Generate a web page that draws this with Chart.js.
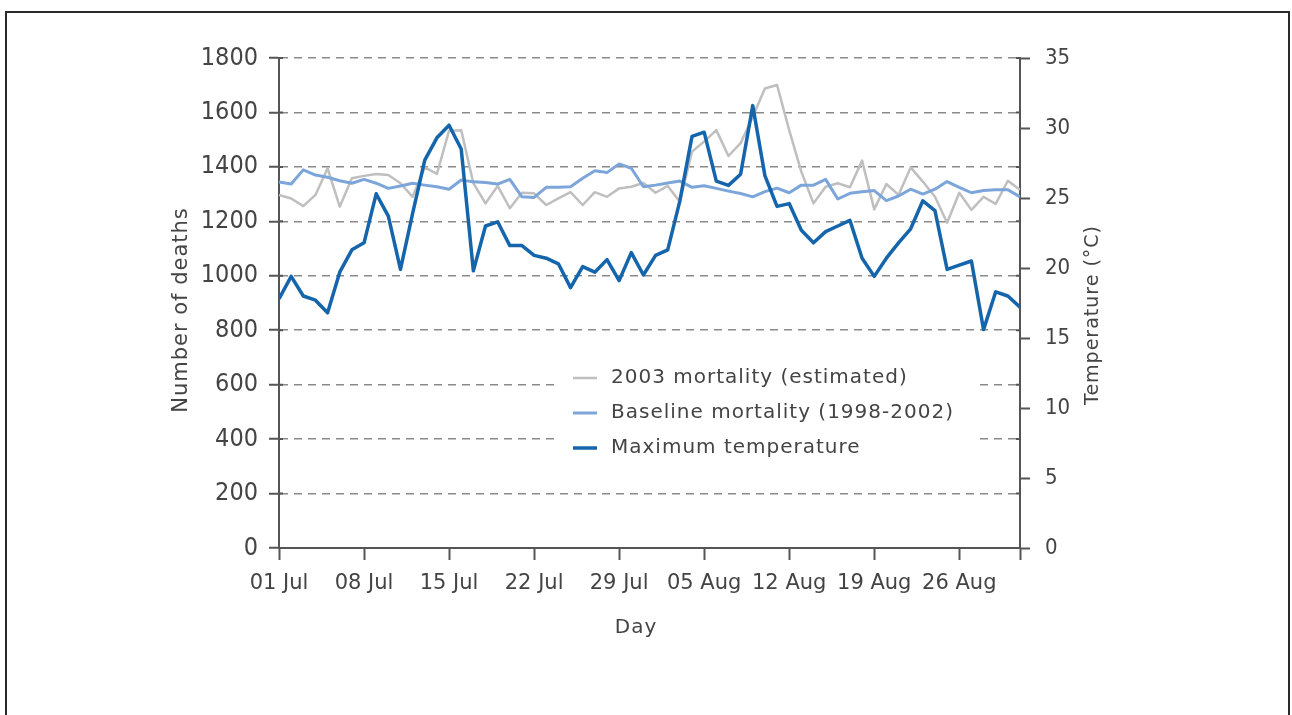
<!DOCTYPE html>
<html>
<head>
<meta charset="utf-8">
<script src="https://cdn.jsdelivr.net/npm/chart.js@4.4.0/dist/chart.umd.min.js"></script>
<style>
html, body { margin: 0; padding: 0; background: #fff; overflow: hidden; }
#frame { position: absolute; left: 5px; top: 11px; width: 1285px; height: 760px; border: 2px solid #2b2b2b; box-sizing: border-box; }
#wrap { position: absolute; left: 0; top: 0; width: 1292px; height: 715px; }
</style>
</head>
<body>
<div id="frame"></div>
<div id="wrap"><canvas id="chart"></canvas></div>
<script>
// Dados
const dayTicks = [0, 7, 14, 21, 28, 35, 42, 49, 56];
const dayLabels = ['01 Jul', '08 Jul', '15 Jul', '22 Jul', '29 Jul', '05 Aug', '12 Aug', '19 Aug', '26 Aug'];
const lastDay = 61;

const seriesNames = ['2003 mortality (estimated)', 'Baseline mortality (1998-2002)', 'Maximum temperature'];

const mortality2003 = [
    1297, 1284, 1256, 1297, 1395, 1254, 1358, 1367, 1374, 1370,
    1340, 1290, 1398, 1374, 1533, 1535, 1340, 1266, 1330, 1248,
    1305, 1303, 1260, 1284, 1307, 1260, 1307, 1290, 1321, 1327,
    1341, 1305, 1330, 1272, 1456, 1493, 1535, 1440, 1487, 1584,
    1688, 1701, 1535, 1382, 1266, 1327, 1340, 1325, 1423, 1244,
    1337, 1297, 1398, 1346, 1290, 1195, 1305, 1242, 1290, 1264,
    1349, 1316
];

const mortalityBaseline = [
    1345, 1337, 1389, 1370, 1362, 1349, 1340, 1354, 1340, 1321,
    1330, 1340, 1333, 1327, 1318, 1352, 1345, 1343, 1337, 1354,
    1290, 1288, 1325, 1325, 1327, 1358, 1386, 1379, 1411, 1395,
    1327, 1333, 1341, 1348, 1325, 1331, 1321, 1311, 1302, 1290,
    1309, 1322, 1305, 1333, 1333, 1354, 1282, 1303, 1309, 1313,
    1276, 1293, 1318, 1300, 1318, 1346, 1325, 1305, 1313, 1316,
    1316, 1290
];

const maxTemperature = [
    17.8, 19.4, 18.0, 17.7, 16.8, 19.7, 21.3, 21.8, 25.3, 23.7,
    19.9, 23.9, 27.7, 29.3, 30.2, 28.5, 19.8, 23.0, 23.3, 21.6,
    21.6, 20.9, 20.7, 20.3, 18.6, 20.1, 19.7, 20.6, 19.1, 21.1,
    19.5, 20.9, 21.3, 24.8, 29.4, 29.7, 26.2, 25.9, 26.7, 31.6,
    26.6, 24.4, 24.6, 22.7, 21.8, 22.6, 23.0, 23.4, 20.7, 19.4,
    20.7, 21.8, 22.8, 24.8, 24.1, 19.9, 20.2, 20.5, 15.6, 18.3,
    18.0, 17.2
];

const FONTE = "'DejaVu Sans Condensed', 'DejaVu Sans', sans-serif";
const FONTE_LARGA = "'DejaVu Sans', sans-serif";
const COR_TEXTO = '#444';
const COR_EIXO = '#555';

Chart.defaults.font.family = FONTE;
Chart.defaults.color = COR_TEXTO;

function pontos(valores) {
    return valores.map((v, i) => ({ x: i, y: v }));
}

function escreverTexto(ctx, texto, x, y, tamanho, rotacao) {
    ctx.save();
    ctx.translate(x, y);
    ctx.rotate(rotacao);
    ctx.fillStyle = COR_TEXTO;
    ctx.font = tamanho + 'px ' + FONTE_LARGA;
    ctx.letterSpacing = '1px';
    ctx.textAlign = 'center';
    ctx.textBaseline = 'middle';
    ctx.fillText(texto, 0, 0);
    ctx.restore();
}

// Legenda dentro da área do gráfico + títulos dos eixos
const legendaPlugin = {
    id: 'legendaInterna',
    beforeDatasetsDraw(chart) {
        const ctx = chart.ctx;
        ctx.save();
        ctx.fillStyle = '#fff';
        ctx.fillRect(560, 358, 415, 110);
        const linhas = [378, 413, 448];
        chart.data.datasets.forEach((ds, i) => {
            const y = linhas[i];
            ctx.strokeStyle = ds.borderColor;
            ctx.lineWidth = ds.borderWidth;
            ctx.beginPath();
            ctx.moveTo(573, y);
            ctx.lineTo(597, y);
            ctx.stroke();
            ctx.fillStyle = COR_TEXTO;
            ctx.font = '20px ' + FONTE_LARGA;
            ctx.letterSpacing = '1px';
            ctx.textBaseline = 'middle';
            ctx.textAlign = 'left';
            ctx.fillText(ds.label, 611, y);
        });
        ctx.letterSpacing = '0px';
        ctx.restore();
    },
    afterDraw(chart) {
        const ctx = chart.ctx;
        const area = chart.chartArea;
        ctx.save();
        // marcas internas dos eixos
        ctx.strokeStyle = COR_EIXO;
        ctx.lineWidth = 2;
        chart.scales.y.ticks.forEach(t => {
            const y = chart.scales.y.getPixelForValue(t.value);
            ctx.beginPath();
            ctx.moveTo(area.left, y);
            ctx.lineTo(area.left + 4, y);
            ctx.moveTo(area.right - 4, y);
            ctx.lineTo(area.right, y);
            ctx.stroke();
        });
        ctx.restore();
        escreverTexto(ctx, 'Number of deaths', 182, 310, 21, -Math.PI / 2);
        escreverTexto(ctx, 'Temperature (°C)', 1093, 315, 19, -Math.PI / 2);
        escreverTexto(ctx, 'Day', 636, 628, 20, 0);
    }
};

new Chart(document.getElementById('chart'), {
    type: 'line',
    data: {
        datasets: [
            {
                label: seriesNames[0],
                data: pontos(mortality2003),
                yAxisID: 'y',
                borderColor: '#bfbfbf',
                borderWidth: 2.5,
                order: 2,
            },
            {
                label: seriesNames[1],
                data: pontos(mortalityBaseline),
                yAxisID: 'y',
                borderColor: '#7ca5da',
                borderWidth: 3,
                order: 1,
            },
            {
                label: seriesNames[2],
                data: pontos(maxTemperature),
                yAxisID: 'y2',
                borderColor: '#1565ac',
                borderWidth: 3.5,
                order: 0,
            }
        ]
    },
    options: {
        responsive: true,
        maintainAspectRatio: false,
        animation: false,
        elements: {
            point: { radius: 0 },
            line: { tension: 0, borderJoinStyle: 'round' }
        },
        layout: {
            padding: { left: 165, right: 0, top: 58, bottom: 71 }
        },
        plugins: {
            legend: { display: false },
            tooltip: { enabled: false }
        },
        scales: {
            x: {
                type: 'linear',
                min: 0,
                max: lastDay,
                afterBuildTicks: (scale) => {
                    scale.ticks = dayTicks.concat([lastDay]).map(v => ({ value: v }));
                },
                afterFit: (scale) => { scale.height = 96; },
                ticks: {
                    autoSkip: false,
                    maxRotation: 0,
                    padding: 11,
                    font: { size: 21, family: FONTE_LARGA },
                    callback: (v) => {
                        const i = dayTicks.indexOf(v);
                        return i >= 0 ? dayLabels[i] : '';
                    }
                },
                grid: {
                    drawOnChartArea: false,
                    tickLength: 12,
                    tickColor: COR_EIXO,
                    tickWidth: 2
                },
                border: { color: COR_EIXO, width: 2 }
            },
            y: {
                position: 'left',
                min: 0,
                max: 1800,
                afterFit: (scale) => { scale.width = 114; },
                ticks: {
                    stepSize: 200,
                    padding: 11,
                    font: { size: 25 },
                    callback: (v) => String(v)
                },
                grid: {
                    color: '#8a8a8a',
                    lineWidth: 1.5,
                    tickLength: 10,
                    tickColor: COR_EIXO,
                    tickWidth: 2
                },
                border: { color: COR_EIXO, width: 2, dash: [8, 6] }
            },
            y2: {
                position: 'right',
                min: 0,
                max: 35,
                afterFit: (scale) => { scale.width = 272; },
                ticks: {
                    stepSize: 5,
                    padding: 15,
                    font: { size: 22 },
                    callback: (v) => String(v)
                },
                grid: {
                    drawOnChartArea: false,
                    tickLength: 10,
                    tickColor: COR_EIXO,
                    tickWidth: 2
                },
                border: { color: COR_EIXO, width: 2 }
            }
        }
    },
    plugins: [legendaPlugin]
});
</script>
</body>
</html>
